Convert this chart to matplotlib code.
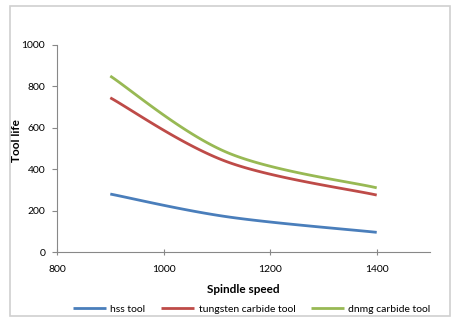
import numpy as np
import matplotlib
matplotlib.use("Agg")
import matplotlib.pyplot as plt
from matplotlib.patches import Rectangle

speed = [900, 1120, 1400]
hss = [280, 170, 95]
tungsten = [745, 435, 275]
dnmg = [850, 480, 310]
labels = ["hss tool", "tungsten carbide tool", "dnmg carbide tool"]
colors = ["#4a7ebb", "#be4b48", "#98b954"]

plt.rcParams['font.family'] = ['Lato', 'DejaVu Sans']

def smooth(xs, ys, n=60):
    # Catmull-Rom style cubic Bezier smoothing (like Excel smoothed lines)
    xs = np.asarray(xs, float); ys = np.asarray(ys, float)
    px = np.concatenate([[xs[0]], xs, [xs[-1]]])
    py = np.concatenate([[ys[0]], ys, [ys[-1]]])
    ox, oy = [], []
    t = np.linspace(0, 1, n)
    for i in range(1, len(px) - 2):
        p0 = np.array([px[i], py[i]]); p3 = np.array([px[i+1], py[i+1]])
        p1 = p0 + (np.array([px[i+1], py[i+1]]) - np.array([px[i-1], py[i-1]])) / 6
        p2 = p3 - (np.array([px[i+2], py[i+2]]) - np.array([px[i], py[i]])) / 6
        b = ((1-t)**3)[:, None]*p0 + (3*(1-t)**2*t)[:, None]*p1 + (3*(1-t)*t**2)[:, None]*p2 + (t**3)[:, None]*p3
        ox.extend(b[:, 0]); oy.extend(b[:, 1])
    return ox, oy

fig = plt.figure(figsize=(4.52, 3.18), dpi=100)
fig.patches.append(Rectangle((10/452, 2/318), 440/452, 310/318, transform=fig.transFigure,
                             fill=False, edgecolor="#d0d0d0", linewidth=1.2))
ax = fig.add_axes([57/452, 1-252/318, 373/452, 207/318])

for ys, c, lab in zip([hss, tungsten, dnmg], colors, labels):
    sx, sy = smooth(speed, ys)
    ax.plot(sx, sy, color=c, linewidth=2.0, label=lab, solid_capstyle='butt')

ax.set_xlim(800, 1500)
ax.set_ylim(0, 1000)
ax.set_xticks([800, 1000, 1200, 1400])
ax.set_yticks([0, 200, 400, 600, 800, 1000])
for s in ["top", "right"]:
    ax.spines[s].set_visible(False)
for s in ["left", "bottom"]:
    ax.spines[s].set_color("#888888")
    ax.spines[s].set_linewidth(0.8)
ax.tick_params(axis='y', colors="#888888", labelcolor="black", labelsize=7.5, length=3.5, width=0.8, pad=5)
ax.tick_params(axis='x', colors="#888888", labelcolor="black", labelsize=7.5, direction='inout', length=5, width=0.8, pad=7)
ax.set_xlabel("Spindle speed", fontsize=8.5, fontweight='bold')
ax.xaxis.set_label_coords(0.5, -0.155)
ax.set_ylabel("Tool life", fontsize=8.5, fontweight='bold')
ax.yaxis.set_label_coords(-0.095, 0.54)

fig.legend(loc='center', bbox_to_anchor=(0.557, 1-309/318), ncol=3, frameon=False,
           fontsize=7.5, handlelength=3.2, columnspacing=1.5, handletextpad=0.4)

fig.savefig("out.png", dpi=100)
